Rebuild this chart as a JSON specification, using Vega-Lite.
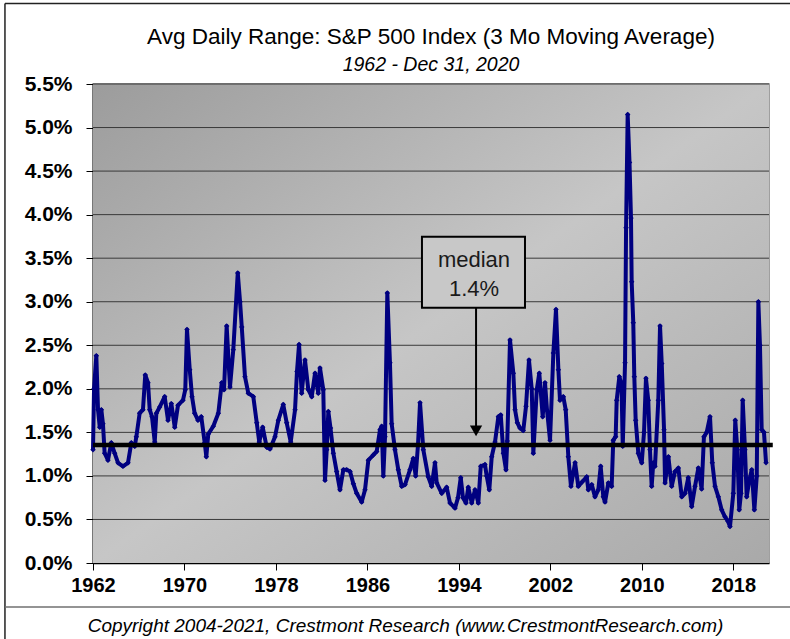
{
  "$schema": "https://vega.github.io/schema/vega-lite/v6.json",
  "width": 676,
  "height": 479,
  "autosize": {"type": "none"},
  "padding": {"left": 93, "top": 84, "right": 21, "bottom": 76},
  "background": "white",
  "config": {
    "font": "Liberation Sans",
    "view": {"stroke": "#808080", "strokeWidth": 1.5}
  },
  "title": {
    "text": "Avg Daily Range: S&P 500 Index (3 Mo Moving Average)",
    "subtitle": "1962 - Dec 31, 2020",
    "font": "Liberation Sans",
    "fontSize": 22.5,
    "fontWeight": "normal",
    "color": "black",
    "subtitleFont": "Liberation Sans",
    "subtitleFontSize": 19.5,
    "subtitleFontStyle": "italic",
    "subtitleColor": "black",
    "anchor": "middle",
    "offset": -72,
    "subtitlePadding": 8
  },
  "datasets": {
    "range": [
      {"year": 1962.00, "value": 1.30}, {"year": 1962.09, "value": 2.00}, {"year": 1962.29, "value": 2.38}, {"year": 1962.44, "value": 1.76},
      {"year": 1962.59, "value": 1.56}, {"year": 1962.73, "value": 1.76}, {"year": 1962.87, "value": 1.60}, {"year": 1963.02, "value": 1.26},
      {"year": 1963.31, "value": 1.18}, {"year": 1963.60, "value": 1.38}, {"year": 1963.90, "value": 1.26}, {"year": 1964.19, "value": 1.15},
      {"year": 1964.62, "value": 1.11}, {"year": 1965.06, "value": 1.15}, {"year": 1965.35, "value": 1.38}, {"year": 1965.65, "value": 1.34},
      {"year": 1965.79, "value": 1.45}, {"year": 1966.08, "value": 1.72}, {"year": 1966.37, "value": 1.76}, {"year": 1966.57, "value": 2.16},
      {"year": 1966.81, "value": 2.07}, {"year": 1966.96, "value": 1.76}, {"year": 1967.16, "value": 1.68}, {"year": 1967.40, "value": 1.39},
      {"year": 1967.54, "value": 1.72}, {"year": 1967.83, "value": 1.79}, {"year": 1968.27, "value": 1.91}, {"year": 1968.56, "value": 1.64},
      {"year": 1968.85, "value": 1.83}, {"year": 1969.15, "value": 1.56}, {"year": 1969.43, "value": 1.81}, {"year": 1969.87, "value": 1.87},
      {"year": 1970.07, "value": 1.99}, {"year": 1970.22, "value": 2.68}, {"year": 1970.46, "value": 2.22}, {"year": 1970.66, "value": 1.91},
      {"year": 1970.89, "value": 1.72}, {"year": 1971.18, "value": 1.64}, {"year": 1971.47, "value": 1.68}, {"year": 1971.77, "value": 1.38},
      {"year": 1971.91, "value": 1.22}, {"year": 1972.08, "value": 1.48}, {"year": 1972.52, "value": 1.57}, {"year": 1972.96, "value": 1.72},
      {"year": 1973.26, "value": 2.07}, {"year": 1973.46, "value": 1.99}, {"year": 1973.69, "value": 2.72}, {"year": 1973.98, "value": 2.02},
      {"year": 1974.27, "value": 2.45}, {"year": 1974.66, "value": 3.33}, {"year": 1974.86, "value": 3.00}, {"year": 1975.01, "value": 2.71},
      {"year": 1975.29, "value": 2.14}, {"year": 1975.58, "value": 1.95}, {"year": 1976.02, "value": 1.91}, {"year": 1976.32, "value": 1.61},
      {"year": 1976.54, "value": 1.39}, {"year": 1976.84, "value": 1.56}, {"year": 1977.19, "value": 1.33}, {"year": 1977.48, "value": 1.31},
      {"year": 1977.92, "value": 1.45}, {"year": 1978.21, "value": 1.64}, {"year": 1978.64, "value": 1.82}, {"year": 1978.94, "value": 1.61},
      {"year": 1979.29, "value": 1.39}, {"year": 1979.67, "value": 1.76}, {"year": 1979.84, "value": 2.20}, {"year": 1980.02, "value": 2.51},
      {"year": 1980.25, "value": 1.95}, {"year": 1980.54, "value": 2.33}, {"year": 1980.83, "value": 1.99}, {"year": 1981.13, "value": 1.91},
      {"year": 1981.42, "value": 2.18}, {"year": 1981.70, "value": 1.95}, {"year": 1981.85, "value": 2.24}, {"year": 1982.14, "value": 1.99},
      {"year": 1982.29, "value": 0.95}, {"year": 1982.44, "value": 1.30}, {"year": 1982.58, "value": 1.74}, {"year": 1982.77, "value": 1.55},
      {"year": 1983.02, "value": 1.26}, {"year": 1983.31, "value": 1.05}, {"year": 1983.60, "value": 0.84}, {"year": 1983.89, "value": 1.07},
      {"year": 1984.19, "value": 1.07}, {"year": 1984.48, "value": 1.05}, {"year": 1984.77, "value": 0.91}, {"year": 1985.06, "value": 0.80},
      {"year": 1985.50, "value": 0.70}, {"year": 1985.79, "value": 0.84}, {"year": 1986.08, "value": 1.18}, {"year": 1986.51, "value": 1.24},
      {"year": 1986.81, "value": 1.28}, {"year": 1987.10, "value": 1.53}, {"year": 1987.25, "value": 1.57}, {"year": 1987.39, "value": 1.00},
      {"year": 1987.54, "value": 1.45}, {"year": 1987.74, "value": 3.10}, {"year": 1987.97, "value": 2.30}, {"year": 1988.12, "value": 1.60},
      {"year": 1988.41, "value": 1.30}, {"year": 1988.70, "value": 1.07}, {"year": 1989.00, "value": 0.88}, {"year": 1989.29, "value": 0.90},
      {"year": 1989.72, "value": 1.07}, {"year": 1990.01, "value": 1.20}, {"year": 1990.22, "value": 1.00}, {"year": 1990.42, "value": 1.35},
      {"year": 1990.60, "value": 1.84}, {"year": 1990.89, "value": 1.30}, {"year": 1991.32, "value": 0.99}, {"year": 1991.62, "value": 0.88},
      {"year": 1991.91, "value": 1.15}, {"year": 1992.06, "value": 0.92}, {"year": 1992.50, "value": 0.80}, {"year": 1992.93, "value": 0.87},
      {"year": 1993.22, "value": 0.69}, {"year": 1993.66, "value": 0.63}, {"year": 1993.92, "value": 0.75}, {"year": 1994.16, "value": 0.98},
      {"year": 1994.36, "value": 0.75}, {"year": 1994.62, "value": 0.69}, {"year": 1994.82, "value": 0.87}, {"year": 1995.12, "value": 0.69},
      {"year": 1995.41, "value": 0.84}, {"year": 1995.70, "value": 0.69}, {"year": 1995.91, "value": 1.11}, {"year": 1996.28, "value": 1.13},
      {"year": 1996.43, "value": 1.00}, {"year": 1996.66, "value": 0.84}, {"year": 1996.87, "value": 1.22}, {"year": 1997.16, "value": 1.39},
      {"year": 1997.45, "value": 1.68}, {"year": 1997.66, "value": 1.70}, {"year": 1997.89, "value": 1.26}, {"year": 1998.12, "value": 1.07},
      {"year": 1998.23, "value": 1.40}, {"year": 1998.47, "value": 2.56}, {"year": 1998.76, "value": 2.18}, {"year": 1998.91, "value": 1.76},
      {"year": 1999.11, "value": 1.61}, {"year": 1999.34, "value": 1.55}, {"year": 1999.63, "value": 1.52}, {"year": 1999.87, "value": 1.80},
      {"year": 2000.13, "value": 2.33}, {"year": 2000.37, "value": 2.00}, {"year": 2000.51, "value": 1.26}, {"year": 2000.81, "value": 1.99},
      {"year": 2001.03, "value": 2.18}, {"year": 2001.33, "value": 1.68}, {"year": 2001.53, "value": 2.07}, {"year": 2001.71, "value": 1.75},
      {"year": 2001.97, "value": 1.41}, {"year": 2002.26, "value": 2.41}, {"year": 2002.49, "value": 2.91}, {"year": 2002.70, "value": 2.22},
      {"year": 2002.84, "value": 1.87}, {"year": 2003.13, "value": 1.91}, {"year": 2003.34, "value": 1.76}, {"year": 2003.57, "value": 1.22},
      {"year": 2003.80, "value": 0.88}, {"year": 2004.16, "value": 1.15}, {"year": 2004.44, "value": 0.88}, {"year": 2004.77, "value": 0.93},
      {"year": 2005.18, "value": 0.99}, {"year": 2005.32, "value": 0.84}, {"year": 2005.62, "value": 0.90}, {"year": 2005.90, "value": 0.76},
      {"year": 2006.19, "value": 0.84}, {"year": 2006.40, "value": 1.11}, {"year": 2006.63, "value": 0.76}, {"year": 2006.78, "value": 0.70},
      {"year": 2007.07, "value": 0.92}, {"year": 2007.36, "value": 0.88}, {"year": 2007.50, "value": 1.41}, {"year": 2007.71, "value": 1.45},
      {"year": 2007.80, "value": 1.87}, {"year": 2008.03, "value": 2.14}, {"year": 2008.22, "value": 2.05}, {"year": 2008.33, "value": 1.34},
      {"year": 2008.53, "value": 2.30}, {"year": 2008.62, "value": 3.85}, {"year": 2008.76, "value": 5.15}, {"year": 2008.92, "value": 4.60},
      {"year": 2009.05, "value": 3.96}, {"year": 2009.11, "value": 3.23}, {"year": 2009.25, "value": 2.76}, {"year": 2009.34, "value": 2.14},
      {"year": 2009.46, "value": 1.64}, {"year": 2009.69, "value": 1.26}, {"year": 2009.99, "value": 1.15}, {"year": 2010.19, "value": 1.50},
      {"year": 2010.36, "value": 2.12}, {"year": 2010.56, "value": 1.87}, {"year": 2010.71, "value": 1.30}, {"year": 2010.86, "value": 0.88},
      {"year": 2011.00, "value": 1.15}, {"year": 2011.15, "value": 1.11}, {"year": 2011.44, "value": 1.87}, {"year": 2011.59, "value": 2.72},
      {"year": 2011.74, "value": 2.29}, {"year": 2011.94, "value": 1.53}, {"year": 2012.03, "value": 0.92}, {"year": 2012.32, "value": 1.22},
      {"year": 2012.61, "value": 0.88}, {"year": 2012.90, "value": 1.05}, {"year": 2013.19, "value": 1.09}, {"year": 2013.49, "value": 0.76},
      {"year": 2013.78, "value": 0.80}, {"year": 2014.06, "value": 0.98}, {"year": 2014.36, "value": 0.65}, {"year": 2014.65, "value": 0.88},
      {"year": 2014.94, "value": 1.09}, {"year": 2015.23, "value": 0.85}, {"year": 2015.43, "value": 1.45}, {"year": 2015.67, "value": 1.50},
      {"year": 2015.96, "value": 1.68}, {"year": 2016.16, "value": 1.15}, {"year": 2016.40, "value": 0.88}, {"year": 2016.69, "value": 0.76},
      {"year": 2016.98, "value": 0.61}, {"year": 2017.27, "value": 0.53}, {"year": 2017.53, "value": 0.48}, {"year": 2017.71, "value": 0.42},
      {"year": 2018.00, "value": 0.80}, {"year": 2018.17, "value": 1.64}, {"year": 2018.35, "value": 1.30}, {"year": 2018.52, "value": 0.61},
      {"year": 2018.67, "value": 0.80}, {"year": 2018.82, "value": 1.87}, {"year": 2019.02, "value": 1.30}, {"year": 2019.17, "value": 0.76},
      {"year": 2019.40, "value": 0.95}, {"year": 2019.61, "value": 1.07}, {"year": 2019.84, "value": 0.61}, {"year": 2020.05, "value": 1.00},
      {"year": 2020.19, "value": 3.00}, {"year": 2020.33, "value": 2.50}, {"year": 2020.48, "value": 1.53}, {"year": 2020.68, "value": 1.50},
      {"year": 2020.86, "value": 1.15}
    ],
    "grid": [
      {"level": 0.5}, {"level": 1.0}, {"level": 1.5}, {"level": 2.0}, {"level": 2.5}, {"level": 3.0},
      {"level": 3.5}, {"level": 4.0}, {"level": 4.5}, {"level": 5.0}, {"level": 5.5}
    ],
    "note": [
      {"start": 1990.77, "end": 1999.78, "low": 2.931, "high": 3.747, "mid": 1995.32, "first": 3.483, "label": "median\n1.4%"}
    ],
    "arrow": [
      {"x": 1995.5, "top": 2.931, "bottom": 1.56, "tip": 1.517}
    ]
  },
  "layer": [
    {
      "data": {"values": [{}]},
      "mark": {
        "type": "rect",
        "fill": {
          "gradient": "linear",
          "x1": 0, "y1": 0, "x2": 1, "y2": 1,
          "stops": [
            {"offset": 0, "color": "#9c9c9c"},
            {"offset": 0.5, "color": "#c6c6c6"},
            {"offset": 1, "color": "#a9a9a9"}
          ]
        }
      },
      "encoding": {}
    },
    {
      "data": {"name": "grid"},
      "mark": {"type": "rule", "color": "#3a3a3a", "strokeWidth": 1},
      "encoding": {"y": {"field": "level", "type": "quantitative"}}
    },
    {
      "data": {"name": "range"},
      "mark": {
        "type": "line",
        "color": "#000080",
        "strokeWidth": 4,
        "strokeJoin": "round",
        "point": {"filled": true, "shape": "diamond", "size": 30, "color": "#000080"}
      },
      "encoding": {
        "x": {
          "field": "year",
          "type": "quantitative",
          "scale": {"domain": [1962, 2021.12], "nice": false, "zero": false},
          "axis": {
            "values": [1962, 1970, 1978, 1986, 1994, 2002, 2010, 2018],
            "format": "d",
            "grid": false,
            "domainColor": "black",
            "domainWidth": 1.5,
            "tickColor": "black",
            "tickSize": 7,
            "labelFont": "Liberation Sans",
            "labelFontSize": 20,
            "labelFontWeight": "bold",
            "labelColor": "black",
            "labelPadding": 5,
            "labelFlush": false,
            "title": "Copyright 2004-2021, Crestmont Research (www.CrestmontResearch.com)",
            "titleFont": "Liberation Sans",
            "titleFontSize": 19,
            "titleFontStyle": "italic",
            "titleFontWeight": "normal",
            "titleColor": "black",
            "titlePadding": 21,
            "titleX": 312
          }
        },
        "y": {
          "field": "value",
          "type": "quantitative",
          "scale": {"domain": [0, 5.5], "nice": false},
          "axis": {
            "values": [0, 0.5, 1, 1.5, 2, 2.5, 3, 3.5, 4, 4.5, 5, 5.5],
            "labelExpr": "format(datum.value, '.1f') + '%'",
            "grid": false,
            "domainColor": "black",
            "domainWidth": 1.5,
            "tickColor": "black",
            "tickSize": 7,
            "labelFont": "Liberation Sans",
            "labelFontSize": 21,
            "labelFontWeight": "bold",
            "labelColor": "black",
            "labelPadding": 14,
            "title": null
          }
        }
      }
    },
    {
      "data": {"values": [{"median": 1.355}]},
      "mark": {"type": "rule", "color": "black", "strokeWidth": 4.5},
      "encoding": {
        "x": {"datum": 1962, "type": "quantitative"},
        "x2": {"datum": 2021.45},
        "y": {"field": "median", "type": "quantitative"}
      }
    },
    {
      "data": {"name": "note"},
      "mark": {"type": "rect", "fill": "#c8c8c8", "stroke": "black", "strokeWidth": 2},
      "encoding": {
        "x": {"field": "start", "type": "quantitative"},
        "x2": {"field": "end"},
        "y": {"field": "low", "type": "quantitative"},
        "y2": {"field": "high"}
      }
    },
    {
      "data": {"name": "arrow"},
      "mark": {"type": "rule", "color": "black", "strokeWidth": 2},
      "encoding": {
        "x": {"field": "x", "type": "quantitative"},
        "y": {"field": "top", "type": "quantitative"},
        "y2": {"field": "bottom"}
      }
    },
    {
      "data": {"name": "arrow"},
      "mark": {"type": "point", "shape": "triangle-down", "filled": true, "color": "black", "size": 150, "opacity": 1},
      "encoding": {
        "x": {"field": "x", "type": "quantitative"},
        "y": {"field": "tip", "type": "quantitative"}
      }
    },
    {
      "data": {"name": "note"},
      "mark": {"type": "text", "lineBreak": "\n", "font": "Liberation Sans", "fontSize": 22, "color": "#1a1a1a", "align": "center", "baseline": "middle", "lineHeight": 29},
      "encoding": {
        "x": {"field": "mid", "type": "quantitative"},
        "y": {"field": "first", "type": "quantitative"},
        "text": {"field": "label"}
      }
    },
    {
      "data": {"values": [{}]},
      "mark": {"type": "rule", "color": "#222222", "strokeWidth": 1.5, "clip": false},
      "encoding": {
        "x": {"datum": 1954.3, "type": "quantitative"},
        "x2": {"datum": 2024.5},
        "y": {"datum": 6.425, "type": "quantitative"}
      }
    },
    {
      "data": {"values": [{}]},
      "mark": {"type": "rule", "color": "#222222", "strokeWidth": 1.5, "clip": false},
      "encoding": {
        "x": {"datum": 1954.3, "type": "quantitative"},
        "y": {"datum": 6.425, "type": "quantitative"},
        "y2": {"datum": -0.9}
      }
    },
    {
      "data": {"values": [{}]},
      "mark": {"type": "rule", "color": "#707070", "strokeWidth": 1.5, "clip": false},
      "encoding": {
        "x": {"datum": 1954.3, "type": "quantitative"},
        "x2": {"datum": 2024.5},
        "y": {"datum": -0.506, "type": "quantitative"}
      }
    }
  ]
}
